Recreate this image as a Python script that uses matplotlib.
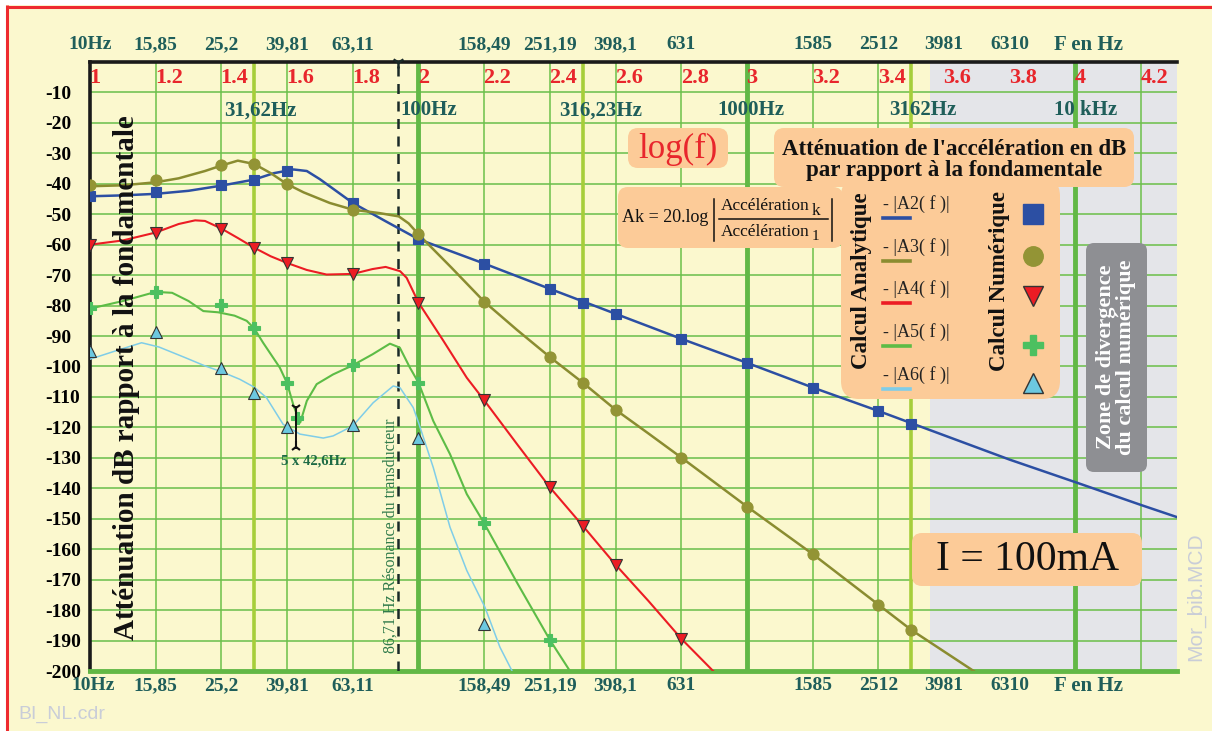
import matplotlib
matplotlib.use('Agg')
import matplotlib.pyplot as plt
from matplotlib.patches import FancyBboxPatch, Rectangle
import numpy as np

plt.rcParams['font.family'] = ['Liberation Serif', 'DejaVu Serif']

W, H = 1212, 731
BG = '#FBF8CE'
PEACH = '#FCCB98'
TEAL = '#1F5E5A'
RED = '#E8262C'

# ---- axis labels -------------------------------------------------------
freq_pos = [1.0, 1.2, 1.4, 1.6, 1.8, 2.2, 2.4, 2.6, 2.8, 3.2, 3.4, 3.6, 3.8]
freq_labels = ['10Hz', '15,85', '25,2', '39,81', '63,11', '158,49', '251,19',
               '398,1', '631', '1585', '2512', '3981', '6310']
log_pos = [1, 1.2, 1.4, 1.6, 1.8, 2, 2.2, 2.4, 2.6, 2.8, 3, 3.2, 3.4, 3.6, 3.8, 4, 4.2]
log_labels = ['1', '1.2', '1.4', '1.6', '1.8', '2', '2.2', '2.4', '2.6', '2.8',
              '3', '3.2', '3.4', '3.6', '3.8', '4', '4.2']
hz_pos = [1.518, 2.032, 2.553, 3.012, 3.536, 4.032]
hz_labels = ['31,62Hz', '100Hz', '316,23Hz', '1000Hz', '3162Hz', '10 kHz']
db_ticks = list(range(-200, 0, 10))

# ---- analytic curves (log10 f, dB) ---------------------------------------
a2_lx = [1.0, 1.1, 1.2, 1.3, 1.4, 1.5, 1.56, 1.62, 1.66, 1.7, 1.75, 1.8, 1.9, 2.0,
         2.2, 2.4, 2.6, 2.8, 3.0, 3.2, 3.4, 3.6, 3.8, 4.0, 4.2, 4.31]
a2_db = [-44.1, -43.8, -43.3, -42.3, -40.6, -38.6, -36.5, -35.3, -35.8, -38.5, -42.4,
         -46.3, -52.3, -58.2, -66.2, -74.5, -82.7, -90.9, -98.8, -106.9, -114.6,
         -122.6, -130.6, -138.0, -145.5, -149.5]
a3_lx = [1.0, 1.1, 1.2, 1.27, 1.35, 1.4, 1.45, 1.5, 1.55, 1.6, 1.65, 1.73, 1.8, 1.88,
         1.94, 1.97, 2.0, 2.1, 2.2, 2.3, 2.4, 2.5, 2.6, 2.7, 2.8, 3.0, 3.2, 3.4, 3.5, 3.69]
a3_db = [-40.8, -40.5, -39.5, -38.2, -35.8, -34.0, -32.4, -33.5, -36.5, -40.1, -42.8,
         -46.3, -48.5, -49.6, -50.7, -53.0, -56.6, -67.5, -78.7, -88.0, -96.9, -105.3,
         -114.2, -122.0, -129.9, -146.0, -161.6, -178.2, -186.5, -200.0]
a4_lx = [1.0, 1.1, 1.2, 1.27, 1.32, 1.35, 1.4, 1.45, 1.5, 1.55, 1.6, 1.66, 1.72, 1.8,
         1.86, 1.9, 1.944, 1.964, 2.0, 2.076, 2.147, 2.2, 2.3, 2.4, 2.5, 2.6, 2.7, 2.8, 2.897]
a4_db = [-60.0, -58.6, -56.0, -53.2, -52.0, -52.2, -54.7, -57.8, -61.0, -63.8, -66.0,
         -68.3, -69.8, -69.6, -68.0, -67.3, -68.7, -70.9, -79.0, -91.6, -103.7, -111.1,
         -125.5, -139.7, -152.3, -165.1, -177.0, -189.4, -200.0]
a5_lx = [1.0, 1.1, 1.2, 1.25, 1.3, 1.345, 1.39, 1.44, 1.477, 1.5, 1.527, 1.578, 1.6,
         1.62, 1.64, 1.66, 1.69, 1.74, 1.8, 1.86, 1.913, 1.943, 1.974, 2.0, 2.045,
         2.096, 2.147, 2.2, 2.3, 2.4, 2.461]
a5_db = [-81.0, -78.5, -75.5, -75.8, -78.5, -81.8, -82.2, -83.3, -85.0, -87.5, -92.2,
         -100.4, -105.5, -113.0, -118.4, -111.3, -105.8, -102.6, -99.6, -96.0, -92.5,
         -93.8, -100.4, -105.3, -117.9, -128.8, -141.9, -151.5, -171.0, -189.8, -200.0]
a6_lx = [1.0, 1.08, 1.157, 1.21, 1.29, 1.35, 1.4, 1.456, 1.5, 1.537, 1.588, 1.639,
         1.71, 1.74, 1.8, 1.862, 1.923, 1.944, 1.984, 2.0, 2.045, 2.096, 2.147, 2.202,
         2.248, 2.284]
a6_db = [-97.6, -94.8, -92.2, -93.6, -97.1, -99.8, -101.7, -104.2, -106.8, -110.2,
         -119.0, -122.2, -123.5, -122.8, -119.5, -111.9, -106.4, -107.0, -113.5, -118.4,
         -133.2, -152.8, -167.0, -179.0, -192.2, -199.8]

# ---- numerical points -----------------------------------------------------
n2_lx = [1, 1.2, 1.4, 1.5, 1.6, 1.8, 2.0, 2.2, 2.4, 2.5, 2.6, 2.8, 3.0, 3.2, 3.4, 3.5]
n2_db = [-44.1, -42.7, -40.5, -38.9, -35.9, -46.3, -58.2, -66.2, -74.5, -79.2, -82.7,
         -90.9, -98.8, -106.9, -114.6, -118.8]
n3_lx = [1, 1.2, 1.4, 1.5, 1.6, 1.8, 2.0, 2.2, 2.4, 2.5, 2.6, 2.8, 3.0, 3.2, 3.4, 3.5]
n3_db = [-40.3, -38.7, -33.8, -33.5, -40.1, -48.5, -56.6, -78.7, -96.9, -105.3, -114.2,
         -129.9, -146.0, -161.6, -178.2, -186.5]
n4_lx = [1, 1.2, 1.4, 1.5, 1.6, 1.8, 2.0, 2.2, 2.4, 2.5, 2.6, 2.8]
n4_db = [-60.2, -56.3, -54.7, -61.0, -66.0, -69.6, -79.1, -111.1, -139.7, -152.3,
         -165.1, -189.4]
n5_lx = [1, 1.2, 1.4, 1.5, 1.6, 1.629, 1.8, 2.0, 2.2, 2.4]
n5_db = [-80.9, -75.5, -79.8, -87.5, -105.5, -117.0, -99.6, -105.3, -151.5, -189.8]
n6_lx = [1, 1.2, 1.4, 1.5, 1.6, 1.8, 2.0, 2.2]
n6_db = [-94.9, -88.6, -100.6, -108.7, -119.8, -119.3, -123.5, -184.5]

series = [
    ('A2', a2_lx, a2_db, n2_lx, n2_db, '#2C4FA3', 's', 7.5, 1.8),
    ('A3', a3_lx, a3_db, n3_lx, n3_db, '#8A8C30', 'o', 8, 1.8),
    ('A4', a4_lx, a4_db, n4_lx, n4_db, '#EC1C24', 'v', 8.5, 1.5),
    ('A5', a5_lx, a5_db, n5_lx, n5_db, '#5DBC46', 'P', 8, 1.5),
    ('A6', a6_lx, a6_db, n6_lx, n6_db, '#7FCDE8', '^', 8.5, 1.1),
]
mk_colors = {'A2': '#2C4FA3', 'A3': '#939435', 'A4': '#EC1C24', 'A5': '#4CC060', 'A6': '#6CC8E0'}

fig = plt.figure(figsize=(W / 100, H / 100), dpi=100)
fig.patch.set_facecolor(BG)

ax = fig.add_axes([90 / W, 1 - 671 / H, (1177 - 90) / W, (671 - 62) / H])
ax.set_facecolor(BG)
xmax = 4.309
ax.set_xlim(1, xmax)
ax.set_ylim(-200, 0)

# divergence zone
ax.axvspan(np.log10(3600), xmax, color='#E4E5E9', zorder=0.5, lw=0)

for y in range(-190, 0, 10):
    ax.axhline(y, color='#74C255', lw=1.2, zorder=1)
for x in [1.2, 1.4, 1.6, 1.8, 2.2, 2.4, 2.6, 2.8, 3.2, 3.4, 4.2]:
    ax.axvline(x, color='#6CC04A', lw=1.1, zorder=1.2)
for x in [1.5, 2.5, 3.5]:
    ax.axvline(x, color='#A6CE3A', lw=2.6, zorder=1.2)
for x in [2, 3, 4]:
    ax.axvline(x, color='#62B846', lw=3.5, zorder=1.2)

res = np.log10(86.71)
ax.axvline(res, color='#1A2A28', ls=(0, (4, 3)), lw=1.8, zorder=3)
ax.plot([res], [0], marker='1', ms=9, mew=1.8, color='#1A2A28', clip_on=False, zorder=6)

for name, lx, db, nx, ndb, col, mk, ms, lw in series:
    ax.plot(lx, db, color=col, lw=lw, zorder=4)
    ax.plot(nx, ndb, ls='none', marker=mk, ms=ms, color=mk_colors[name],
            mec='#333333' if mk in 'v^' else mk_colors[name], mew=0.8, zorder=5)

ax.set_xticks([])
ax.set_yticks(db_ticks)
ax.set_yticklabels([str(v) for v in db_ticks], fontsize=14, fontweight='bold')
for lbl in ax.get_yticklabels():
    lbl.set_ha('left')
ax.tick_params(axis='y', length=0, pad=32)
ax.spines['right'].set_visible(False)
ax.spines['top'].set_linewidth(2.6)
ax.spines['top'].set_color('#1A1A1A')
ax.spines['left'].set_linewidth(2.6)
ax.spines['left'].set_color('#1A1A1A')
ax.spines['bottom'].set_linewidth(3.5)
ax.spines['bottom'].set_color('#62B846')

tr = ax.get_xaxis_transform()
for x, s in zip(freq_pos, freq_labels):
    ax.text(x, 1.028, s, transform=tr, ha='center', va='center', fontsize=14,
            fontweight='bold', color=TEAL, clip_on=False)
    ax.text(x + (0.01 if x == 1.0 else 0), -0.024, s, transform=tr, ha='center',
            va='center', fontsize=14, fontweight='bold', color=TEAL, clip_on=False)
for yy in [1.028, -0.024]:
    ax.text(4.04, yy, 'F en Hz', transform=tr, ha='center', va='center', fontsize=15,
            fontweight='bold', color=TEAL, clip_on=False)
for x, s in zip(log_pos, log_labels):
    ax.text(x - 0.002, 0.9737, s, transform=tr, ha='left', va='center', fontsize=16,
            fontweight='bold', color=RED, zorder=6)
for x, s in zip(hz_pos, hz_labels):
    ax.text(x, 0.921, s, transform=tr, ha='center', va='center', fontsize=15,
            fontweight='bold', color=TEAL, zorder=6)

# ---- overlay in pixel coordinates ----------------------------------------
ov = fig.add_axes([0, 0, 1, 1], zorder=5)
ov.set_xlim(0, W)
ov.set_ylim(H, 0)
ov.axis('off')

ov.add_patch(Rectangle((0, 0), W, 5, color='white', lw=0))
ov.add_patch(Rectangle((0, 0), 6, H, color='white', lw=0))
ov.plot([6, W], [6.5, 6.5], color='#EE2A2F', lw=2.2, solid_capstyle='butt')
ov.plot([7, 7], [5, H], color='#EE2A2F', lw=2.2, solid_capstyle='butt')

ov.text(127, 378, 'Atténuation dB rapport à la fondamentale', rotation=90,
        ha='center', va='center', fontsize=21, fontweight='bold', color='#111111')


def rbox(x0, y0, x1, y1, color=PEACH, r=10):
    ov.add_patch(FancyBboxPatch((x0, y0), x1 - x0, y1 - y0,
                                boxstyle='round,pad=0,rounding_size=%d' % r,
                                fc=color, ec='none'))


rbox(628, 128, 728, 168)
ov.text(678, 149, 'log(f)', ha='center', va='center', fontsize=25, color=RED)

rbox(774, 128, 1134, 187)
rbox(841, 178, 1060, 399, r=18)
ov.text(954, 160, "Atténuation de l'accélération en dB\npar rapport à la fondamentale",
        ha='center', va='center', fontsize=16.5, fontweight='bold', color='#111111',
        linespacing=1.0)

rbox(618, 187, 843, 248)
ov.text(622, 218, 'Ak = 20.log', ha='left', va='center', fontsize=13, color='#111111')
ov.plot([714, 714], [199, 241], color='#111111', lw=1.1)
ov.plot([832, 832], [199, 241], color='#111111', lw=1.1)
ov.plot([719, 828], [219, 219], color='#111111', lw=1.1)
ov.text(721, 206, 'Accélération', ha='left', va='center', fontsize=12.5, color='#111111')
ov.text(812, 211, 'k', ha='left', va='center', fontsize=12.5, color='#111111')
ov.text(721, 232, 'Accélération', ha='left', va='center', fontsize=12.5, color='#111111')
ov.text(812, 236, '1', ha='left', va='center', fontsize=11, color='#111111')

ov.text(862, 281, 'Calcul Analytique', rotation=90, ha='center', va='center',
        fontsize=16.5, fontweight='bold', color='#111111')
ov.text(999, 281, 'Calcul Numérique', rotation=90, ha='center', va='center',
        fontsize=16.5, fontweight='bold', color='#111111')

leg_y = [204, 247, 289, 332, 375]
leg_mk_y = [214, 256, 296, 345, 383]
for (name, lx, db, nx, ndb, col, mk, ms, lw), ty, my in zip(series, leg_y, leg_mk_y):
    ov.text(883, ty, '- |%s( f )|' % name, ha='left', va='center', fontsize=13,
            color='#222222')
    ov.plot([883, 910], [ty + 14, ty + 14], color=col, lw=2.6)
    ov.plot([1033], [my], marker=mk, ms=14, ls='none', color=mk_colors[name],
            mec='#333333' if mk in 'v^' else mk_colors[name], mew=1)

rbox(1086, 243, 1147, 472, color='#8E8F93', r=8)
ov.text(1116, 357, 'Zone de divergence\ndu calcul numérique', rotation=90,
        ha='center', va='center', fontsize=16, fontweight='bold', color='white',
        linespacing=1.0)

rbox(912, 533, 1142, 586)
ov.text(1027, 560, 'I = 100mA', ha='center', va='center', fontsize=30, color='#111111')

# resonance and 5 x 42,6 Hz marks
ov.text(391, 536, '86,71 Hz Résonance du transducteur', rotation=90, ha='center',
        va='center', fontsize=11.5, color='#2F7A4A')
ov.plot([295.7, 295.7], [407, 448], color='#111111', lw=1.4)
ov.plot([295.7], [408], marker='1', ms=8, mew=1.5, color='#111111')
ov.plot([295.7], [447], marker='2', ms=8, mew=1.5, color='#111111')
ov.text(314, 461, '5 x 42,6Hz', ha='center', va='center', fontsize=10.5,
        fontweight='bold', color='#1E6B45')

ov.text(1196, 597, 'Mor_bib.MCD', rotation=90, ha='center', va='center',
        fontsize=15, color='#C9CDD8', family='Liberation Sans')
ov.text(18, 714, 'BI_NL.cdr', ha='left', va='center', fontsize=14,
        color='#C9CDD8', family='Liberation Sans')

fig.savefig('out.png', dpi=100, facecolor=BG)
